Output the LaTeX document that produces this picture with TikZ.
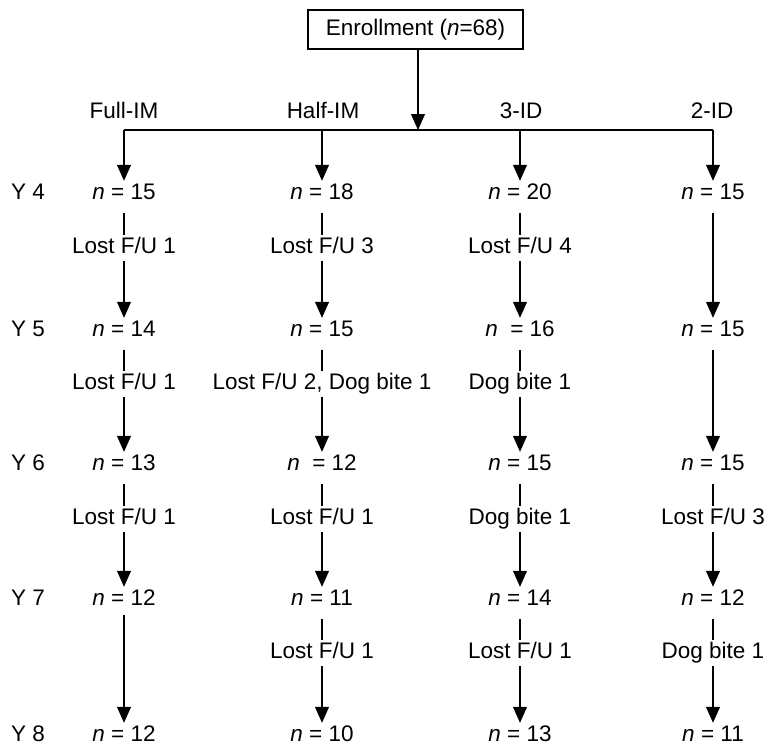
\documentclass[tikz,border=0pt]{standalone}
\usepackage{fontspec}
\setmainfont{Liberation Sans}
\usetikzlibrary{arrows.meta}

\begin{document}
\begin{tikzpicture}[x=1pt,y=-1pt,
	every node/.style={font=\fontsize{22.5}{27}\selectfont, inner sep=2pt, text height=16pt, text depth=4pt},
	arr/.style={-{Triangle[width=14pt,length=16pt]}, line width=1.1pt},
	tick/.style={line width=1.1pt}]
	\useasboundingbox (0,0) rectangle (764,745);

	% draw enrollment box
	\node[draw, line width=1.1pt, minimum width=215pt, minimum height=39pt] (enroll) at (415.5,29.5) {Enrollment (\textit{n}=68)};

	% draw horizontal line
	\coordinate (split) at (418,130);
	\coordinate (ha) at (124,130);
	\coordinate (hb) at (322,130);
	\coordinate (hc) at (520,130);
	\coordinate (hd) at (713,130);
	\draw[tick] (ha) -- (hd);
	\draw[arr] (enroll.south -| split) -- (split);

	% draw group names
	\node (full) at (124,112) {Full-IM};
	\node (half) at (323,112) {Half-IM};
	\node (three) at (521,112) {3-ID};
	\node (two) at (712,112) {2-ID};

	% draw years
	\node (y4) at (28,193) {Y 4};
	\node (y5) at (28,330) {Y 5};
	\node (y6) at (28,464) {Y 6};
	\node (y7) at (28,599) {Y 7};
	\node (y8) at (28,735) {Y 8};

	% draw counts
	\node (a4) at (124,193) {\textit{n} = 15};
	\node (a5) at (124,330) {\textit{n} = 14};
	\node (a6) at (124,464) {\textit{n} = 13};
	\node (a7) at (124,599) {\textit{n} = 12};
	\node (a8) at (124,735) {\textit{n} = 12};
	\node (b4) at (322,193) {\textit{n} = 18};
	\node (b5) at (322,330) {\textit{n} = 15};
	\node (b6) at (322,464) {\textit{n}~~= 12};
	\node (b7) at (322,599) {\textit{n} = 11};
	\node (b8) at (322,735) {\textit{n} = 10};
	\node (c4) at (520,193) {\textit{n} = 20};
	\node (c5) at (520,330) {\textit{n}~~= 16};
	\node (c6) at (520,464) {\textit{n} = 15};
	\node (c7) at (520,599) {\textit{n} = 14};
	\node (c8) at (520,735) {\textit{n} = 13};
	\node (d4) at (713,193) {\textit{n} = 15};
	\node (d5) at (713,330) {\textit{n} = 15};
	\node (d6) at (713,464) {\textit{n} = 15};
	\node (d7) at (713,599) {\textit{n} = 12};
	\node (d8) at (713,735) {\textit{n} = 11};

	% draw losses
	\node (la4) at (124,247) {Lost F/U 1};
	\node (la5) at (124,383) {Lost F/U 1};
	\node (la6) at (124,518) {Lost F/U 1};
	\node (lb4) at (322,247) {Lost F/U 3};
	\node (lb5) at (322,383) {Lost F/U 2, Dog bite 1};
	\node (lb6) at (322,518) {Lost F/U 1};
	\node (lb7) at (322,652) {Lost F/U 1};
	\node (lc4) at (520,247) {Lost F/U 4};
	\node (lc5) at (520,383) {Dog bite 1};
	\node (lc6) at (520,518) {Dog bite 1};
	\node (lc7) at (520,652) {Lost F/U 1};
	\node (ld6) at (713,518) {Lost F/U 3};
	\node (ld7) at (713,652) {Dog bite 1};

	% draw arrows from split
	\draw[arr] (ha) -- (a4);
	\draw[arr] (hb) -- (b4);
	\draw[arr] (hc) -- (c4);
	\draw[arr] (hd) -- (d4);

	% Full-IM
	\draw[tick, shorten <=8pt] (a4) -- (la4); \draw[arr, shorten <=2pt] (la4) -- (a5);
	\draw[tick, shorten <=8pt] (a5) -- (la5); \draw[arr, shorten <=2pt] (la5) -- (a6);
	\draw[tick, shorten <=8pt] (a6) -- (la6); \draw[arr, shorten <=2pt] (la6) -- (a7);
	\draw[arr, shorten <=4pt] (a7) -- (a8);
	% Half-IM
	\draw[tick, shorten <=8pt] (b4) -- (lb4); \draw[arr, shorten <=2pt] (lb4) -- (b5);
	\draw[tick, shorten <=8pt] (b5) -- (lb5); \draw[arr, shorten <=2pt] (lb5) -- (b6);
	\draw[tick, shorten <=8pt] (b6) -- (lb6); \draw[arr, shorten <=2pt] (lb6) -- (b7);
	\draw[tick, shorten <=8pt] (b7) -- (lb7); \draw[arr, shorten <=2pt] (lb7) -- (b8);
	% 3-ID
	\draw[tick, shorten <=8pt] (c4) -- (lc4); \draw[arr, shorten <=2pt] (lc4) -- (c5);
	\draw[tick, shorten <=8pt] (c5) -- (lc5); \draw[arr, shorten <=2pt] (lc5) -- (c6);
	\draw[tick, shorten <=8pt] (c6) -- (lc6); \draw[arr, shorten <=2pt] (lc6) -- (c7);
	\draw[tick, shorten <=8pt] (c7) -- (lc7); \draw[arr, shorten <=2pt] (lc7) -- (c8);
	% 2-ID
	\draw[arr, shorten <=8pt] (d4) -- (d5);
	\draw[arr, shorten <=8pt] (d5) -- (d6);
	\draw[tick, shorten <=8pt] (d6) -- (ld6); \draw[arr, shorten <=2pt] (ld6) -- (d7);
	\draw[tick, shorten <=8pt] (d7) -- (ld7); \draw[arr, shorten <=2pt] (ld7) -- (d8);
\end{tikzpicture}
\end{document}
